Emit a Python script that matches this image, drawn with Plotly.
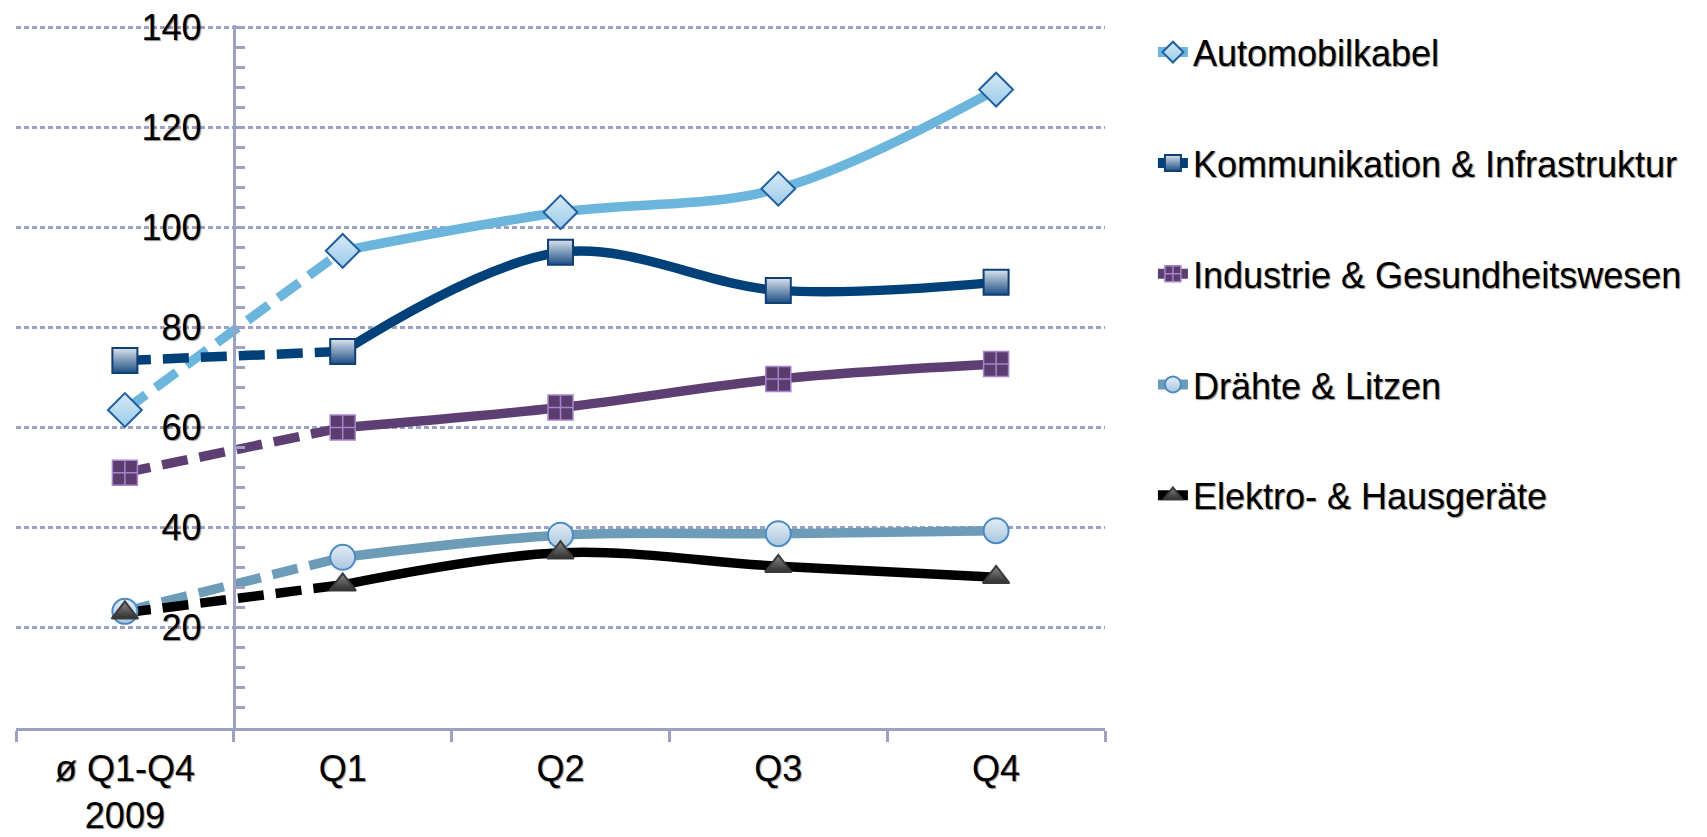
import plotly.graph_objects as go

categories = ["ø Q1-Q4<br>2009", "Q1", "Q2", "Q3", "Q4"]
series_names = ["Automobilkabel", "Kommunikation & Infrastruktur",
                "Industrie & Gesundheitswesen", "Drähte & Litzen", "Elektro- & Hausgeräte"]
automobil = [63.5, 95.3, 103.0, 107.7, 127.5]
kommunikation = [73.4, 75.2, 95.0, 87.4, 89.0]
industrie = [51.0, 60.0, 64.0, 69.7, 72.7]
draehte = [23.3, 34.1, 38.5, 38.8, 39.4]
elektro = [23.0, 28.6, 35.0, 32.3, 30.1]
y_ticks = [20, 40, 60, 80, 100, 120, 140]

styles = [
    dict(line="#6CB6DD", symbol="diamond", fill="#D6EAF7", grad="#9CCBEA", edge="#1F5FA0", size=26),
    dict(line="#00417A", symbol="square", fill="#DCE3EC", grad="#1B4E85", edge="#0F3F73", size=25),
    dict(line="#5E3F74", symbol="square-cross", fill="#5B3C6F", grad="#4E2F62", edge="#4E2F62", size=25),
    dict(line="#6D9CB8", symbol="circle", fill="#E4EEF6", grad="#A9C6DE", edge="#4A8BC4", size=25),
    dict(line="#000000", symbol="triangle-up", fill="#8A8A8A", grad="#2E2E2E", edge="#3A3A3A", size=23),
]
values = [automobil, kommunikation, industrie, draehte, elektro]

font_family = "Liberation Sans, Arial, sans-serif"
text_font = dict(size=36, family=font_family, color="#000000",
                 shadow="1px 1px 1px rgba(0,0,0,0.45)")


def make_marker(st):
    m = dict(symbol=st["symbol"], size=st["size"], color=st["fill"],
             line=dict(color=st["edge"], width=2),
             gradient=dict(type="vertical", color=st["grad"]))
    if st["symbol"] == "square-cross":
        m["line"] = dict(color="#A884CC", width=1.5)
        m["gradient"] = dict(type="none")
    return m


fig = go.Figure()

for name, vals, st in zip(series_names, values, styles):
    # dashed first segment (average 2009 -> Q1)
    fig.add_trace(go.Scatter(
        x=categories[:2], y=vals[:2], mode="lines",
        line=dict(color=st["line"], width=9.5, dash="26px,12px"),
        legendgroup=name, showlegend=False, hoverinfo="skip"))
    # solid smoothed remainder
    fig.add_trace(go.Scatter(
        x=categories[1:], y=vals[1:], mode="lines",
        line=dict(color=st["line"], width=9.5, shape="spline", smoothing=1.0),
        legendgroup=name, showlegend=False, hoverinfo="skip"))

for name, vals, st in zip(series_names, values, styles):
    fig.add_trace(go.Scatter(
        x=categories, y=vals, mode="markers", name=name,
        marker=make_marker(st), legendgroup=name, showlegend=False))

for name, st in zip(series_names, styles):
    fig.add_trace(go.Scatter(
        x=[None], y=[None], mode="lines+markers", name=name,
        line=dict(color=st["line"], width=10), marker=make_marker(st),
        legendgroup=name, showlegend=True))

grid_color = "#9DA2C2"
# page body has an 8px default margin, so the figure is sized 8px smaller
fig.update_layout(
    width=1699, height=829,
    margin=dict(l=8, r=602, t=17, b=109, autoexpand=False),
    paper_bgcolor="white", plot_bgcolor="white",
    font=dict(family=font_family, size=36, color="#000000"),
    showlegend=True,
    legend=dict(x=1.044, y=1.004, xanchor="left", yanchor="top",
                font=text_font, tracegroupgap=61, itemsizing="trace",
                maxheight=800, bgcolor="rgba(0,0,0,0)"),
    xaxis=dict(type="category", categoryorder="array", categoryarray=categories,
               range=[-0.5, 4.5], showgrid=False, showline=True, automargin=False,
               linecolor=grid_color, linewidth=3, ticks="outside",
               tickson="boundaries", ticklen=11, tickwidth=2.5, tickcolor=grid_color,
               ticklabelstandoff=7, ticklabeloverflow="allow",
               zeroline=False, tickfont=text_font),
    yaxis=dict(range=[0, 140.4], tickvals=y_ticks, ticktext=[str(v) for v in y_ticks],
               anchor="free", position=0.2, showline=True, linecolor=grid_color,
               automargin=False, ticklabeloverflow="allow",
               linewidth=3, showgrid=True, gridcolor=grid_color, gridwidth=3,
               griddash="5px,3px", zeroline=False, ticks="inside", ticklen=9,
               tickwidth=2.5, tickcolor=grid_color, ticklabelstandoff=24,
               minor=dict(dtick=4, tick0=0, ticks="inside", ticklen=9,
                          tickwidth=2.5, tickcolor=grid_color, showgrid=False),
               tickfont=text_font),
)

fig.write_html("out.html")
